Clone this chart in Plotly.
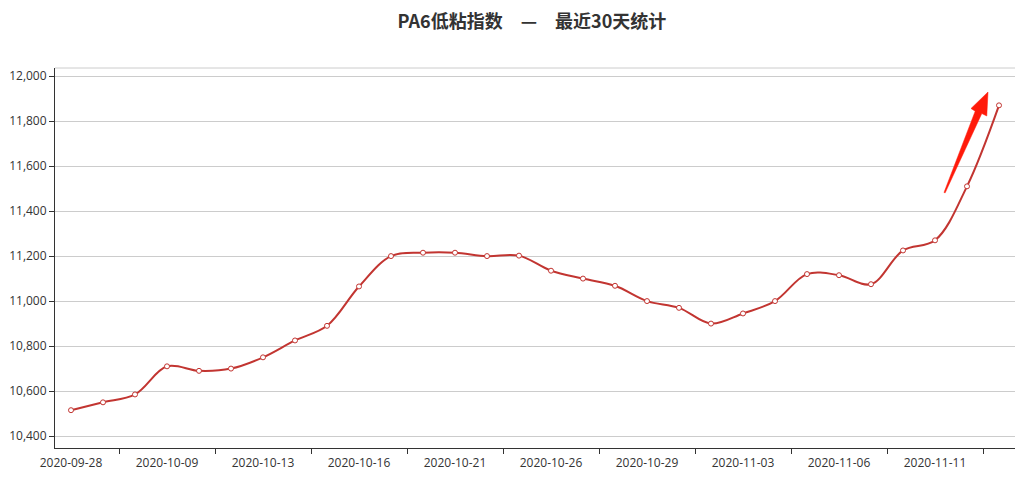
import plotly.graph_objects as go

dates = ["2020-09-28", "2020-09-29", "2020-09-30", "2020-10-09", "2020-10-10",
         "2020-10-12", "2020-10-13", "2020-10-14", "2020-10-15", "2020-10-16",
         "2020-10-19", "2020-10-20", "2020-10-21", "2020-10-22", "2020-10-23",
         "2020-10-26", "2020-10-27", "2020-10-28", "2020-10-29", "2020-10-30",
         "2020-11-02", "2020-11-03", "2020-11-04", "2020-11-05", "2020-11-06",
         "2020-11-09", "2020-11-10", "2020-11-11", "2020-11-12", "2020-11-13"]
values = [10515, 10550, 10585, 10710, 10690, 10700, 10750, 10825, 10890, 11065,
          11200, 11215, 11215, 11200, 11202, 11135, 11100, 11068, 11000, 10970,
          10900, 10945, 11000, 11120, 11115, 11075, 11225, 11270, 11510, 11870]
y_ticks = [10400, 10600, 10800, 11000, 11200, 11400, 11600, 11800, 12000]
y_range = [10347, 12036]
title_text = "PA6低粘指数　—　最近30天统计"

idx = list(range(len(dates)))
label_idx = idx[::3]
boundary_ticks = [i + 1.5 for i in idx[::3]]

LINE = "#c23531"
AXIS = "#333333"
FONT = "Open Sans, Noto Sans CJK SC, sans-serif"

fig = go.Figure()
fig.add_trace(go.Scatter(
    x=idx, y=values, mode="lines+markers",
    line=dict(color=LINE, width=2, shape="spline", smoothing=1),
    marker=dict(size=5, color="white", line=dict(color=LINE, width=1)),
    hoverinfo="x+y", showlegend=False,
))
# invisible trace for boundary tick marks axis
fig.add_trace(go.Scatter(x=[idx[0]], y=[values[0]], xaxis="x2", mode="markers",
                         marker=dict(opacity=0), showlegend=False, hoverinfo="skip"))

# Arrow decoration (tapered wedge) in pixel-derived paper coords
L, R, T, B = 55, 1015, 68, 448
def px(x, y):
    return (x - L) / (R - L), (B - y) / (B - T)
pts = [(944.0, 192.5), (975.2, 111.2), (971.0, 108.5), (988.0, 92.0),
       (986.8, 116.0), (981.8, 113.5), (945.2, 192.8)]
path = "M " + " L ".join(f"{px(x, y)[0]:.5f},{px(x, y)[1]:.5f}" for x, y in pts) + " Z"

fig.update_layout(
    width=1023, height=478,
    margin=dict(l=L, r=1023 - R, t=T, b=478 - B),
    paper_bgcolor="white", plot_bgcolor="white",
    font=dict(family=FONT, size=12, color=AXIS),
    title=dict(text=title_text, x=0.52, xanchor="center", y=1 - 22 / 478,
               yanchor="middle", yref="container", automargin=False,
               font=dict(family="Noto Sans CJK SC, sans-serif", size=18,
                         color="#333333", weight="bold")),
    xaxis=dict(range=[-0.5, len(dates) - 0.5], tickmode="array",
               tickvals=label_idx, ticktext=[dates[i] for i in label_idx],
               showgrid=False, zeroline=False, showline=True, automargin=False,
               linecolor=AXIS, linewidth=1, ticks="", ticklabelstandoff=4,
               tickfont=dict(size=12, color=AXIS)),
    xaxis2=dict(range=[-0.5, len(dates) - 0.5], overlaying="x", side="bottom",
                tickmode="array", tickvals=boundary_ticks, ticks="outside",
                ticklen=5, tickcolor=AXIS, showticklabels=False, automargin=False,
                showgrid=False, zeroline=False, showline=False),
    yaxis=dict(range=y_range, tickmode="array", tickvals=y_ticks,
               tickformat=",", showgrid=True, gridcolor="#cccccc", gridwidth=1,
               zeroline=False, showline=True, linecolor=AXIS, linewidth=1,
               ticks="outside", ticklen=5, tickcolor=AXIS, automargin=False,
               tickfont=dict(size=12, color=AXIS)),
    shapes=[
        dict(type="line", xref="paper", yref="paper", x0=0, x1=1, y0=1, y1=1,
             line=dict(color="#cccccc", width=1), layer="below"),
        dict(type="path", xref="paper", yref="paper", path=path,
             fillcolor="#ff1a0a", line=dict(color="#ff1a0a", width=0.5)),
    ],
)

fig.write_html("out.html", config={"displayModeBar": False},
               post_script="document.body.style.margin='0';document.body.style.padding='0';")
